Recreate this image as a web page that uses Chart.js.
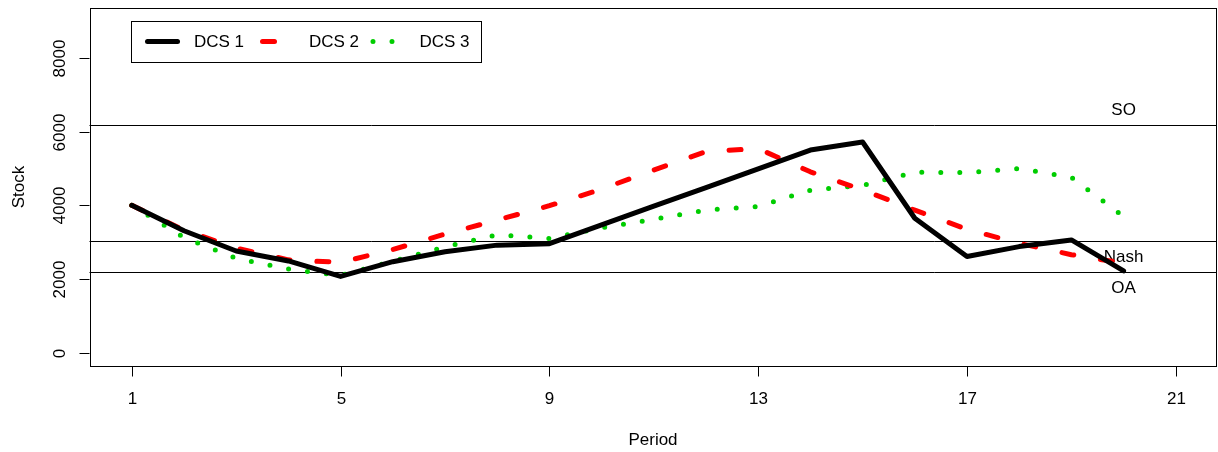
<!DOCTYPE html>
<html>
<head>
<meta charset="utf-8">
<script src="https://cdn.jsdelivr.net/npm/chart.js@4.4.1/dist/chart.umd.min.js"></script>
<style>
  html, body { margin: 0; padding: 0; background: #fff; }
  #wrap { width: 1218px; height: 452px; }
</style>
</head>
<body>
<div id="wrap"><canvas id="myChart" width="1218" height="452"></canvas></div>
<script>
// periods (x)
const periods = [1, 2, 3, 4, 5, 6, 7, 8, 9, 10, 11, 12, 13, 14, 15, 16, 17, 18, 19, 20];
// stock per period
const dcs1 = [4000, 3310, 2760, 2490, 2070, 2470, 2740, 2920, 2960, 3470, 3980, 4480, 4990, 5500, 5720, 3650, 2610, 2880, 3060, 2220];
const dcs2 = [4000, 3330, 2840, 2520, 2450, 2800, 3220, 3600, 3990, 4440, 4960, 5460, 5540, 4910, 4420, 3870, 3350, 2970, 2660, 2430];
const dcs3 = [4000, 3130, 2560, 2270, 2095, 2480, 2870, 3200, 3100, 3390, 3620, 3870, 3970, 4410, 4540, 4900, 4890, 5000, 4760, 3700];
// reference levels
const refNames = ['SO', 'Nash', 'OA'];
const refValues = [6181, 3040, 2183];
// tick labels
const xTicks = [1, 5, 9, 13, 17, 21];
const yTicks = [0, 2000, 4000, 6000, 8000];

const FONT = '17px "Liberation Sans", Arial, sans-serif';

function pts(values) {
  return periods.map((p, i) => ({ x: p, y: values[i] }));
}

const data = {
  datasets: [
    { label: 'DCS 1', data: pts(dcs1), borderColor: '#000000', borderWidth: 5, borderDash: [] },
    { label: 'DCS 2', data: pts(dcs2), borderColor: '#ff0000', borderWidth: 5, borderDash: [12, 27] },
    { label: 'DCS 3', data: pts(dcs3), borderColor: '#00cd00', borderWidth: 5, borderDash: [0, 19] },
  ].map((d) => Object.assign(d, {
    pointRadius: 0,
    tension: 0,
    fill: false,
    borderCapStyle: 'round',
    borderJoinStyle: 'round',
  })),
};

// R-like frame, axes, reference lines and legend
const basePlot = {
  id: 'basePlot',
  beforeDatasetsDraw(chart) {
    const { ctx, chartArea: a, scales: { x, y } } = chart;
    ctx.save();
    ctx.strokeStyle = '#000';
    ctx.lineWidth = 1;
    // reference lines (abline)
    refValues.forEach((v) => {
      const py = Math.round(y.getPixelForValue(v)) + 0.5;
      ctx.beginPath();
      ctx.moveTo(a.left, py);
      ctx.lineTo(a.right, py);
      ctx.stroke();
    });
    ctx.fillStyle = '#000';
    ctx.font = FONT;
    ctx.textAlign = 'center';
    ctx.textBaseline = 'alphabetic';
    const lx = x.getPixelForValue(20);
    refNames.forEach((n, i) => {
      const py = y.getPixelForValue(refValues[i]);
      // SO sits above its line, the others below
      ctx.fillText(n, lx, i === 0 ? py - 10 : py + 21);
    });
    ctx.restore();
  },
  afterDraw(chart) {
    const { ctx, chartArea: a, scales: { x, y } } = chart;
    ctx.save();
    ctx.strokeStyle = '#000';
    ctx.fillStyle = '#000';
    ctx.lineWidth = 1;
    // box
    ctx.strokeRect(Math.round(a.left) + 0.5, Math.round(a.top) + 0.5,
      Math.round(a.right - a.left) - 1, Math.round(a.bottom - a.top) - 1);
    ctx.font = FONT;
    // x axis ticks
    ctx.textAlign = 'center';
    ctx.textBaseline = 'alphabetic';
    xTicks.forEach((t) => {
      const px = Math.round(x.getPixelForValue(t)) + 0.5;
      ctx.beginPath();
      ctx.moveTo(px, a.bottom);
      ctx.lineTo(px, a.bottom + 10);
      ctx.stroke();
      ctx.fillText(String(t), px, 404);
    });
    // y axis ticks, labels turned like R (las = 0)
    yTicks.forEach((t) => {
      const py = Math.round(y.getPixelForValue(t)) + 0.5;
      ctx.beginPath();
      ctx.moveTo(a.left - 10, py);
      ctx.lineTo(a.left, py);
      ctx.stroke();
      ctx.save();
      ctx.translate(64.5, py);
      ctx.rotate(-Math.PI / 2);
      ctx.fillText(String(t), 0, 0);
      ctx.restore();
    });
    // axis titles
    ctx.fillText('Period', (a.left + a.right) / 2, 445);
    ctx.save();
    ctx.translate(24, (a.top + a.bottom) / 2);
    ctx.rotate(-Math.PI / 2);
    ctx.fillText('Stock', 0, 0);
    ctx.restore();

    // legend
    ctx.strokeRect(131.5, 21.5, 350, 41);
    const ly = 41.5;
    const sampleX = [145, 260, 370.5];
    ctx.textAlign = 'left';
    ctx.textBaseline = 'middle';
    chart.data.datasets.forEach((ds, i) => {
      const sx = sampleX[i];
      ctx.save();
      ctx.strokeStyle = ds.borderColor;
      ctx.lineWidth = ds.borderWidth;
      ctx.lineCap = 'round';
      ctx.setLineDash(ds.borderDash);
      ctx.beginPath();
      ctx.moveTo(sx + 2.5, ly);
      ctx.lineTo(sx + 32.5, ly);
      ctx.stroke();
      ctx.restore();
      ctx.fillText(ds.label, sx + 49, ly + 1);
    });
    ctx.restore();
  },
};

const config = {
  type: 'line',
  data,
  options: {
    responsive: false,
    animation: false,
    devicePixelRatio: 1,
    layout: {
      padding: { left: 89.5, right: 1.5, top: 7.5, bottom: 85.5 },
    },
    scales: {
      x: { type: 'linear', min: 0.19, max: 21.78, display: false },
      y: { type: 'linear', min: -375, max: 9371, display: false },
    },
    plugins: {
      legend: { display: false },
      tooltip: { enabled: false },
    },
  },
  plugins: [basePlot],
};

const myChart = new Chart(document.getElementById('myChart'), config);
</script>
</body>
</html>
